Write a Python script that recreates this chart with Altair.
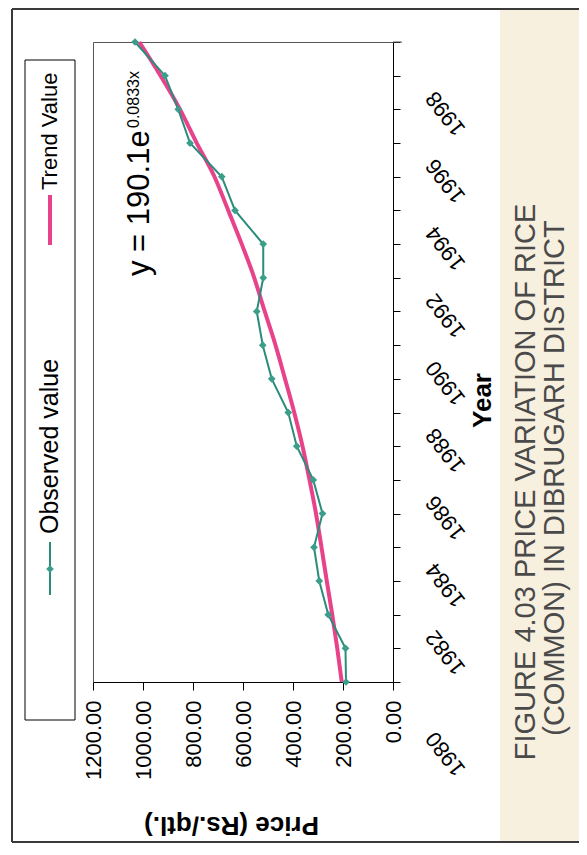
import altair as alt
import pandas as pd

years = list(range(1980, 2000))
observed = [188, 190, 259, 295, 316, 282, 319, 385, 419, 485,
            521, 545, 519, 519, 632, 685, 812, 859, 912, 1032]
trend = [205, 223, 243, 265, 286, 308, 334, 362, 395, 432,
         470, 513, 555, 605, 659, 714, 785, 852, 930, 1015]
price_ticks = [0, 200, 400, 600, 800, 1000, 1200]
legend_labels = ["Observed value", "Trend Value"]
title_lines = ["FIGURE 4.03 PRICE VARIATION OF RICE", "(COMMON) IN DIBRUGARH DISTRICT"]
equation_main = "y = 190.1e"
equation_sup = "0.0833x"

FONT = "Liberation Sans"
GREEN = "#2b8c7b"
PINK = "#e8438a"

df = pd.DataFrame({"year": years, "observed": observed, "trend": trend})
one = pd.DataFrame({"k": [0]})

x_axis = alt.Axis(
    orient="bottom", values=price_ticks, format=".2f", labelAngle=270,
    labelAlign="right", labelBaseline="middle", labelPadding=10,
    labelFontSize=22, labelFont=FONT, labelColor="black",
    tickSize=8, tickColor="black", domainColor="black", grid=False,
    labelOverlap=False, labelFlush=False,
    title="Price (Rs./qtl.)", titleAngle=180, titleFont=FONT,
    titleFontSize=26, titleFontWeight="bold", titleColor="black",
    titleX=138, titleY=142, titleAlign="center", titleBaseline="middle",
)
x_scale = alt.Scale(domain=[0, 1200], reverse=True, nice=False, zero=False)

y_axis = alt.Axis(
    orient="right", values=years, format="d",
    labelExpr="datum.value % 2 == 0 ? datum.label : ''",
    labelAngle=232, labelAlign="right", labelBaseline="middle",
    labelPadding=30,
    labelOffset={"condition": {"test": "datum.value == 1980", "value": 52}, "value": 18},
    labelFontSize=22, labelFont=FONT,
    labelColor="black", labelOverlap=False, labelFlush=False, labelBound=False,
    tickSize=7, tickColor="black", domainColor="black", grid=False,
    title="Year", titleAngle=270, titleFont=FONT, titleFontSize=26,
    titleFontWeight="bold", titleColor="black",
    titleX=89, titleY=358, titleAlign="center", titleBaseline="middle",
)
y_scale = alt.Scale(domain=[1980, 1999], nice=False, zero=False)

base = alt.Chart(df)

beige = alt.Chart(one).mark_rect(color="#f7f0df").encode(
    x=alt.value(407), x2=alt.value(490), y=alt.value(-34), y2=alt.value(805)
)
border_left = alt.Chart(one).mark_rule(color="#3a3a3a", strokeWidth=2).encode(
    x=alt.value(-81), y=alt.value(-33), y2=alt.value(800)
)
border_top = alt.Chart(one).mark_rule(color="#3a3a3a", strokeWidth=2).encode(
    x=alt.value(-81), x2=alt.value(490), y=alt.value(-33)
)
border_bottom = alt.Chart(one).mark_rule(color="#3a3a3a", strokeWidth=2).encode(
    x=alt.value(-81), x2=alt.value(490), y=alt.value(800)
)
plot_top_ext = alt.Chart(one).mark_rule(color="#555555", strokeWidth=1).encode(
    x=alt.value(300), x2=alt.value(309), y=alt.value(0)
)

trend_line = base.mark_line(color=PINK, strokeWidth=4, interpolate="monotone").encode(
    x=alt.X("trend:Q", scale=x_scale, axis=x_axis),
    y=alt.Y("year:Q", scale=y_scale, axis=y_axis),
    order="year:Q",
)
obs_line = base.mark_line(color=GREEN, strokeWidth=2).encode(
    x=alt.X("observed:Q", scale=x_scale, axis=x_axis),
    y=alt.Y("year:Q", scale=y_scale, axis=y_axis),
    order="year:Q",
)
obs_pts = base.mark_point(shape="diamond", filled=True, size=60, color="#3a9e8b", opacity=1).encode(
    x=alt.X("observed:Q", scale=x_scale, axis=x_axis),
    y=alt.Y("year:Q", scale=y_scale, axis=y_axis),
)

# legend
leg_box = alt.Chart(one).mark_rect(fillOpacity=0, stroke="black", strokeWidth=1).encode(
    x=alt.value(-68), x2=alt.value(-18), y=alt.value(18), y2=alt.value(678)
)
leg_trend_line = alt.Chart(one).mark_rule(color=PINK, strokeWidth=4).encode(
    x=alt.value(-43), y=alt.value(153), y2=alt.value(203)
)
leg_trend_text = alt.Chart(one).mark_text(
    text=legend_labels[1], angle=270, align="left", baseline="middle",
    fontSize=22, font=FONT, color="black"
).encode(x=alt.value(-43), y=alt.value(148))
leg_obs_line = alt.Chart(one).mark_rule(color=GREEN, strokeWidth=2).encode(
    x=alt.value(-43), y=alt.value(500), y2=alt.value(553)
)
leg_obs_pt = alt.Chart(one).mark_point(shape="diamond", filled=True, size=60, color="#3a9e8b", opacity=1).encode(
    x=alt.value(-43), y=alt.value(527)
)
leg_obs_text = alt.Chart(one).mark_text(
    text=legend_labels[0], angle=270, align="left", baseline="middle",
    fontSize=25, font=FONT, color="black"
).encode(x=alt.value(-43), y=alt.value(492))

# equation
eq_main = alt.Chart(one).mark_text(
    text=equation_main, angle=270, align="left", baseline="alphabetic",
    fontSize=31, font=FONT, color="black"
).encode(x=alt.value(56), y=alt.value(234))
eq_sup = alt.Chart(one).mark_text(
    text=equation_sup, angle=270, align="left", baseline="alphabetic",
    fontSize=16, font=FONT, color="black"
).encode(x=alt.value(46), y=alt.value(86))

# figure title
t1 = alt.Chart(one).mark_text(
    text=title_lines[0], angle=270, align="center", baseline="middle",
    fontSize=29, font=FONT, color="#4a4a4a"
).encode(x=alt.value(433), y=alt.value(440))
t2 = alt.Chart(one).mark_text(
    text=title_lines[1], angle=270, align="center", baseline="middle",
    fontSize=29, font=FONT, color="#4a4a4a"
).encode(x=alt.value(462), y=alt.value(436))

chart = alt.layer(
    beige, border_left, border_top, border_bottom, plot_top_ext,
    trend_line, obs_line, obs_pts,
    leg_box, leg_trend_line, leg_trend_text, leg_obs_line, leg_obs_pt, leg_obs_text,
    eq_main, eq_sup, t1, t2,
).properties(
    width=300, height=640,
    padding={"left": 85, "top": 34, "right": 186, "bottom": 161},
    autosize=alt.AutoSizeParams(type="none"),
    background="white",
).configure_view(stroke="#555555", strokeWidth=1)

chart.save("out.html", embed_options={"renderer": "svg", "actions": False})
